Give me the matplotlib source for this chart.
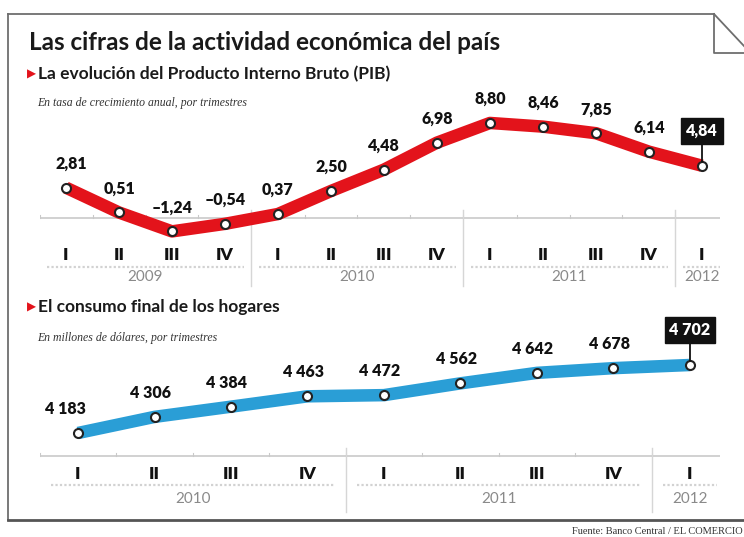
import matplotlib
matplotlib.use("Agg")
import matplotlib.pyplot as plt

W, H = 744, 537

# Producto Interno Bruto, tasa de crecimiento anual por trimestre
pib_quarters = ["I", "II", "III", "IV", "I", "II", "III", "IV", "I", "II", "III", "IV", "I"]
pib_years = ["2009", "2010", "2011", "2012"]
pib_values = [2.81, 0.51, -1.24, -0.54, 0.37, 2.50, 4.48, 6.98, 8.80, 8.46, 7.85, 6.14, 4.84]

# Consumo final de los hogares, millones de dólares
cons_quarters = ["I", "II", "III", "IV", "I", "II", "III", "IV", "I"]
cons_years = ["2010", "2011", "2012"]
cons_values = [4183, 4306, 4384, 4463, 4472, 4562, 4642, 4678, 4702]

RED = "#e3131b"
BLUE = "#2a9ed6"
GRID = "#c9c9c9"
YEAR_GRAY = "#8a8a8a"

BOLD_FONT = ["Lato", "DejaVu Sans"]
SERIF_FONT = ["Liberation Serif", "DejaVu Serif"]

PT = 72.0 / 100  # points per pixel at dpi 100


def px_axes(fig, x0, y0, x1, y1):
    return fig.add_axes([x0 / W, 1 - y1 / H, (x1 - x0) / W, (y1 - y0) / H])


def fmt_pib(v):
    return f"{v:.2f}".replace(".", ",").replace("-", "\u2013")


def fmt_cons(v):
    return f"{v:,}".replace(",", " ")


def draw_series(ax, values, color, fmt, dx_first=0.0, dy=23, dx=0.0):
    x = list(range(len(values)))
    ax.plot(x, values, color=color, lw=9, solid_capstyle="butt",
            solid_joinstyle="round", zorder=3)
    ax.plot(x, values, ls="none", marker="o", ms=6.5, mfc="white",
            mec="#222222", mew=1.5, zorder=4)
    for i, v in enumerate(values[:-1]):
        off = dx_first if i == 0 else dx
        ax.annotate(fmt(v), (i, v), xytext=(off * PT, dy * PT),
                    textcoords="offset points", ha="center", va="center",
                    fontsize=11.5, fontweight="heavy", family=BOLD_FONT,
                    color="#111111", zorder=5)
    # last value highlighted in a black box
    last = len(values) - 1
    ax.annotate(fmt(values[-1]), (last, values[-1]), xytext=(0, (dy + 11) * PT),
                textcoords="offset points", ha="center", va="center",
                fontsize=11.5, fontweight="heavy", family=BOLD_FONT, color="white",
                bbox=dict(boxstyle="square,pad=0.3", fc="#111111", ec="#111111"),
                arrowprops=dict(arrowstyle="-", color="#111111", lw=1.3,
                                shrinkA=0, shrinkB=3),
                zorder=5)


def draw_time_axis(ax, quarters, years, base, px_per_unit, lab_dy, year_dy,
                   under_dy, sep_top, sep_bottom):
    n = len(quarters)
    ax.axhline(base, color=GRID, lw=1.2, zorder=1)
    for i in range(n):
        ax.plot([i - 0.5, i - 0.5], [base, base + 3 / px_per_unit],
                color=GRID, lw=0.8, zorder=1)
    for i, q in enumerate(quarters):
        ax.annotate(q, (i, base), xytext=(0, -lab_dy * PT), textcoords="offset points",
                    ha="center", va="center", fontsize=12.5, fontweight="heavy",
                    family=BOLD_FONT, color="#111111")
    # group quarters into years (last year holds only one quarter)
    starts = list(range(0, n, 4))
    for k, s in enumerate(starts):
        e = min(s + 3, n - 1)
        ax.annotate(years[k], ((s + e) / 2, base), xytext=(0, -year_dy * PT),
                    textcoords="offset points", ha="center", va="center",
                    fontsize=11, family=BOLD_FONT, color=YEAR_GRAY)
        yy = base - under_dy / px_per_unit
        ax.plot([s - 0.35, e + 0.35], [yy, yy], color="#d2d2d2", lw=1.6,
                ls=(0, (1, 1)), zorder=1)
        if k > 0:
            ax.plot([s - 0.5, s - 0.5],
                    [base + sep_top / px_per_unit, base - sep_bottom / px_per_unit],
                    color="#d6d6d6", lw=1, zorder=1)


fig = plt.figure(figsize=(W / 100, H / 100), dpi=100)
fig.patch.set_facecolor("white")

# frame, headings and source drawn in pixel space
bg = fig.add_axes([0, 0, 1, 1], zorder=-1)
bg.set_xlim(0, W)
bg.set_ylim(H, 0)
bg.axis("off")
frame_kw = dict(color="#6e6e6e", lw=1.3)
bg.plot([8, 714], [14, 14], **frame_kw)
bg.plot([8, 8], [14, 520], **frame_kw)
bg.plot([8, 744], [520, 520], color="#555555", lw=2)
bg.plot([714, 714, 744], [14, 53, 53], **frame_kw)
bg.plot([714, 744], [14, 46], **frame_kw)

bg.text(29, 42, "Las cifras de la actividad económica del país", fontsize=17.5,
        fontweight="bold", family=BOLD_FONT, color="#1a1a1a", va="center")
for y, label in [(74, "La evolución del Producto Interno Bruto (PIB)"),
                 (307, "El consumo final de los hogares")]:
    bg.text(27, y, "\u25B6", fontsize=8.5, color=RED, va="center", family="DejaVu Sans")
    bg.text(38, y, label, fontsize=12.5, fontweight="bold", family=BOLD_FONT,
            color="#1a1a1a", va="center")
bg.text(37, 103, "En tasa de crecimiento anual, por trimestres", fontsize=8.5,
        style="italic", family=SERIF_FONT, color="#333333", va="center")
bg.text(37, 338, "En millones de dólares, por trimestres", fontsize=8.5,
        style="italic", family=SERIF_FONT, color="#333333", va="center")
bg.text(743, 531, "Fuente: Banco Central / EL COMERCIO", fontsize=7.5,
        family=SERIF_FONT, color="#333333", va="center", ha="right")

# PIB chart: quarter i sits at 66 + 53 i px, zero line at 218 px, 10.8 px per point
ax1 = px_axes(fig, 40, 110, 720, 292)
k1 = 10.8
ax1.set_xlim((40 - 66) / 53, (720 - 66) / 53)
ax1.set_ylim((218 - 292) / k1, (218 - 110) / k1)
ax1.axis("off")
draw_time_axis(ax1, pib_quarters, pib_years, 0, k1, lab_dy=37, year_dy=59,
               under_dy=49, sep_top=8, sep_bottom=68)
draw_series(ax1, pib_values, RED, fmt_pib, dx_first=5, dy=24)

# consumption chart: quarter i at 78 + 76.5 i px, baseline at 456 px
ax2 = px_axes(fig, 40, 320, 720, 516)
k2 = (433 - 365) / (4702 - 4183)
base2 = 4183 - (456 - 433) / k2
ax2.set_xlim((40 - 78) / 76.5, (720 - 78) / 76.5)
ax2.set_ylim(4183 - (516 - 433) / k2, 4183 + (433 - 320) / k2)
ax2.axis("off")
draw_time_axis(ax2, cons_quarters, cons_years, base2, k2, lab_dy=18, year_dy=43,
               under_dy=29, sep_top=8, sep_bottom=56)
draw_series(ax2, cons_values, BLUE, fmt_cons, dx_first=-13, dy=24, dx=-4)

fig.savefig("out.png", dpi=100)
